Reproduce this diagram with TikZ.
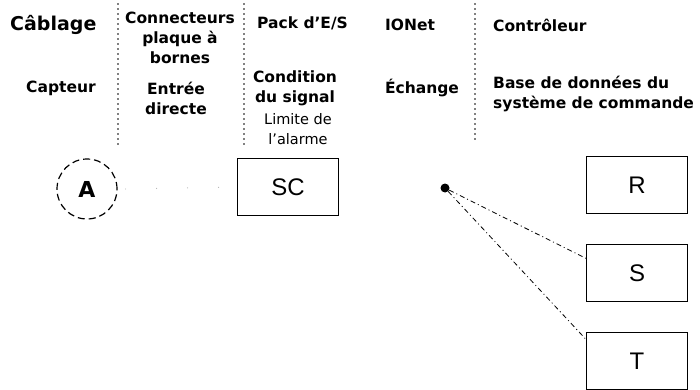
\documentclass[tikz,border=0pt]{standalone}
\usepackage{fontspec}
\setmainfont{DejaVu Sans}
\newfontfamily\boxfont{Liberation Sans}
\usepackage{tikz}
\usetikzlibrary{arrows.meta,positioning}

\begin{document}
\begin{tikzpicture}[
    x=1pt, y=-1pt,
    font=\fontsize{15.5}{20}\selectfont\bfseries,
    label/.style={align=center, inner sep=0pt},
    leftlabel/.style={align=left, anchor=west, inner sep=0pt},
    note/.style={align=center, inner sep=0pt, font=\fontsize{14.5}{20}\selectfont},
    block/.style={draw, line width=1.2pt, minimum width=101pt, minimum height=57pt, inner sep=0pt, font=\boxfont\fontsize{24}{24}\selectfont},
    sep/.style={line width=1.6pt, dash pattern=on 0pt off 5pt, line cap=round},
    faint/.style={line width=1.2pt, gray!60, dash pattern=on 0pt off 31pt, line cap=round},
    net/.style={line width=0.8pt, dash pattern=on 5pt off 3pt on 1pt off 3pt}
]
\useasboundingbox (0,0) rectangle (700,390);
% column separators
\draw[sep] (118,4) -- (118,145);
\draw[sep] (244,4) -- (244,145);
\draw[sep] (475,4) -- (475,140);
% headings
\node[leftlabel, font=\fontsize{19}{20}\selectfont\bfseries] (cab) at (10,25) {Câblage};
\node[label] (con) at (180,38) {Connecteurs\\plaque à\\bornes};
\node[leftlabel] (pack) at (257,23) {Pack d'E/S};
\node[leftlabel] (ionet) at (385,25) {IONet};
\node[leftlabel] (ctl) at (493,25) {Contrôleur};
% second row
\node[label] (capt) at (61,88) {Capteur};
\node[label] (entree) at (176,98) {Entrée\\directe};
\node[label] (cond) at (295,88) {Condition\\du signal};
\node[note] (lim) at (298,129) {Limite de\\l'alarme};
\node[label] (ech) at (422,88) {Échange};
\node[leftlabel] (base) at (493,94) {Base de données du\\système de commande};
% devices
\node[draw, circle, line width=1.2pt, dash pattern=on 7pt off 4pt, minimum size=60pt, inner sep=0pt, font=\fontsize{22}{22}\selectfont\bfseries] (A) at (87,189) {A};
\node[block] (sc) at (288,187) {SC};
\node[circle, fill, inner sep=0pt, minimum size=9pt] (hub) at (445,188) {};
\node[block] (R) at (637,185) {R};
\node[block] (S) at (637,273) {S};
\node[block] (T) at (637,361) {T};
% links
\draw[faint] ([xshift=8pt]A.east) -- (sc.west);
\draw[net] (hub) -- (S.164);
\draw[net] (hub) -- (T.157);
\end{tikzpicture}
\end{document}
